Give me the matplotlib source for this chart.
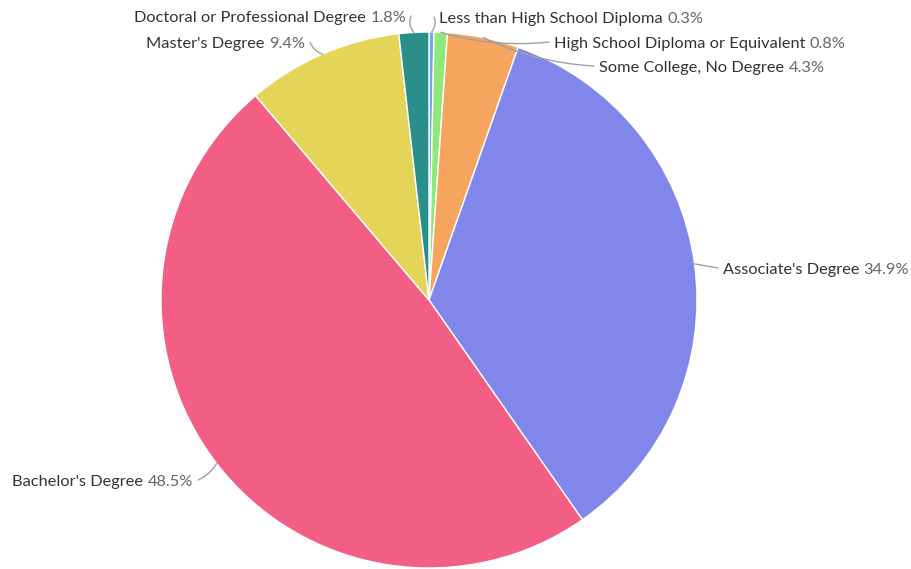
import numpy as np
import matplotlib.pyplot as plt
from matplotlib.offsetbox import TextArea, HPacker, AnnotationBbox

# Education level breakdown (clockwise from 12 o'clock)
categories = ["Less than High School Diploma", "High School Diploma or Equivalent",
              "Some College, No Degree", "Associate's Degree", "Bachelor's Degree",
              "Master's Degree", "Doctoral or Professional Degree"]
shares = [0.3, 0.8, 4.3, 34.9, 48.5, 9.4, 1.8]
colors = ["#6fa8e4", "#8fe87a", "#f6a55e", "#8187ea", "#f25e84", "#e4d458", "#2a8f8a"]

W, H = 912, 569
cx, cy, R = 429, 300, 268

# label anchor points in pixels (leader end, text side, curvature)
label_px = [(434, 17, 'left', -0.3), (549, 42, 'left', -0.1), (594, 66, 'left', -0.1),
            (718, 268, 'left', 0.0), (198, 480, 'right', 0.15), (310, 42, 'right', 0.25),
            (411, 16, 'right', 0.3)]

plt.rcParams['font.family'] = ['Lato', 'DejaVu Sans']

fig = plt.figure(figsize=(W / 100, H / 100), dpi=100)
ax = fig.add_axes([(cx - R) / W, (H - cy - R) / H, 2 * R / W, 2 * R / H])

wedges, _ = ax.pie(shares, colors=colors, startangle=90, counterclock=False,
                   radius=1.0, wedgeprops=dict(edgecolor='white', linewidth=1))
ax.set_xlim(-1, 1)
ax.set_ylim(-1, 1)
ax.set_aspect('equal')
ax.axis('off')


def to_data(px, py):
    return (px - cx) / R, (cy - py) / R


for w, name, val, (px, py, side, rad) in zip(wedges, categories, shares, label_px):
    ang = np.deg2rad((w.theta1 + w.theta2) / 2)
    wx, wy = np.cos(ang), np.sin(ang)
    tx, ty = to_data(px, py)
    ax.annotate('', xy=(wx, wy), xytext=(tx, ty), annotation_clip=False,
                arrowprops=dict(arrowstyle='-', color='#a0a0a0', lw=1.0,
                                shrinkA=0, shrinkB=0,
                                connectionstyle=f'arc3,rad={rad}'))
    t1 = TextArea(name + " ", textprops=dict(color='#333333', fontsize=11.8))
    t2 = TextArea(f"{val}%", textprops=dict(color='#666666', fontsize=11.8))
    box = HPacker(children=[t1, t2], pad=0, sep=0, align='baseline')
    gap = 5 / R
    if side == 'left':
        xy, align = (tx + gap, ty - 2 / R), (0, 0.5)
    else:
        xy, align = (tx - gap, ty - 2 / R), (1, 0.5)
    ab = AnnotationBbox(box, xy, xycoords='data', box_alignment=align,
                        frameon=False, pad=0, annotation_clip=False)
    ax.add_artist(ab)

fig.savefig('out.png', dpi=100)
